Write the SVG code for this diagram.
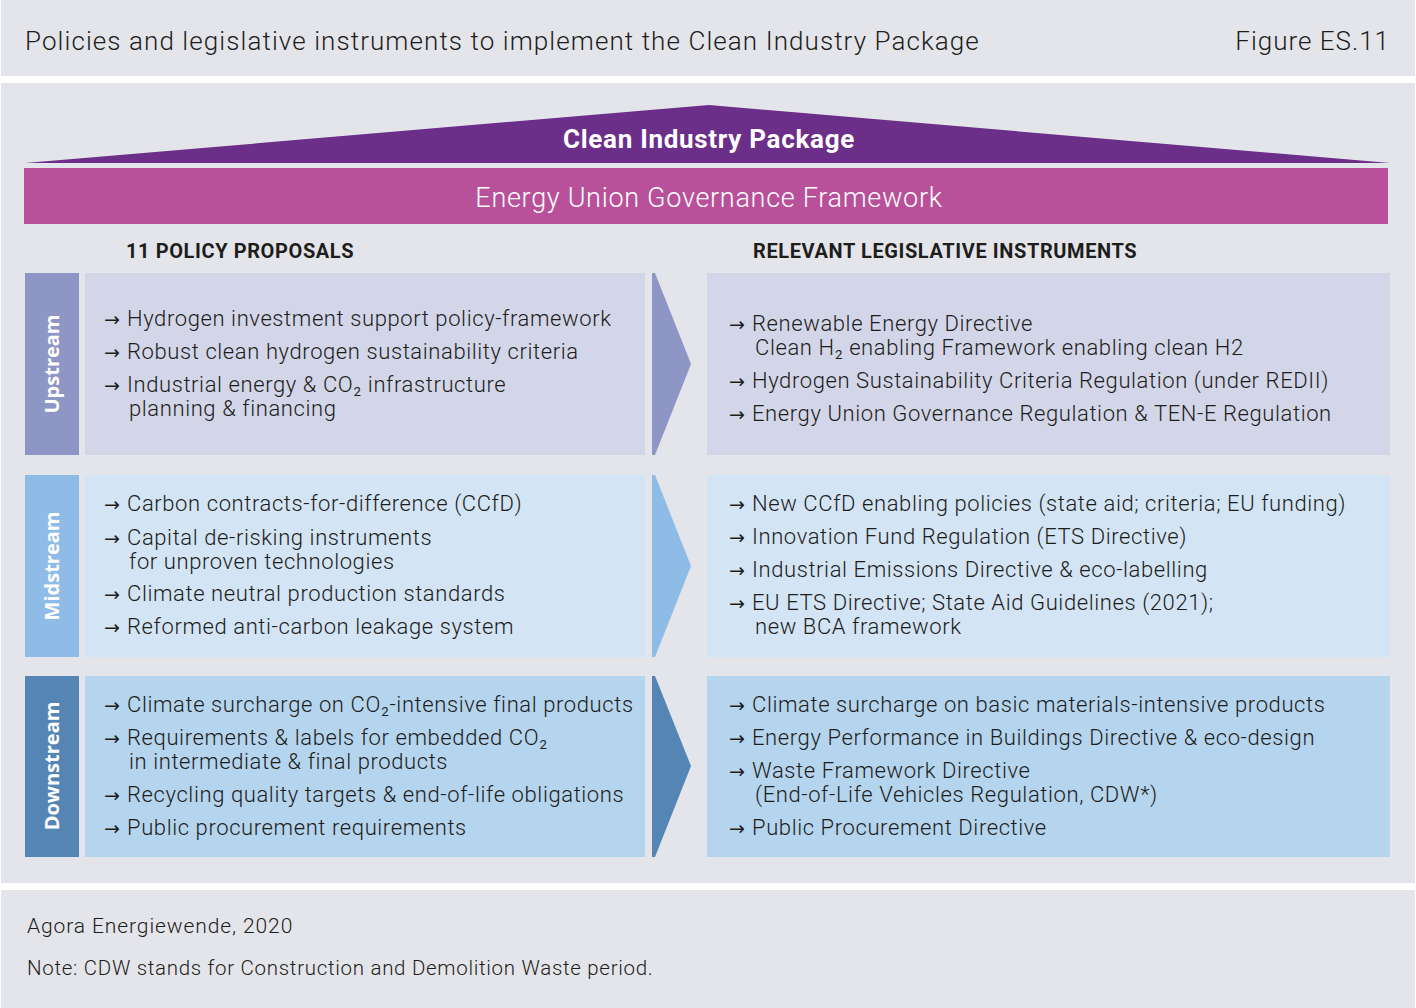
<svg xmlns="http://www.w3.org/2000/svg" width="1416" height="1008" viewBox="0 0 1416 1008">
<style>
.t{font-family:Roboto,"Liberation Sans",sans-serif;fill:#1d1d1b}
.b{font-size:22px;font-weight:300;letter-spacing:0.6px}
.a{font-family:"DejaVu Sans",sans-serif;font-size:19px;fill:#1d1d1b}
.h{font-size:20px;font-weight:700;letter-spacing:0.6px}
.v{font-family:"Open Sans","Liberation Sans",sans-serif;font-size:20px;font-weight:700;fill:#fff}
.w{font-family:Roboto,"Liberation Sans",sans-serif;fill:#fff}
</style>
<rect width="1416" height="1008" fill="#fff"/>
<rect x="1" y="0" width="1414" height="76" fill="#e4e5ea"/>
<rect x="1" y="83" width="1414" height="800" fill="#e4e5ea"/>
<rect x="1" y="890" width="1414" height="118" fill="#e4e5ea"/>
<text class="t" x="25" y="50" font-size="26" font-weight="300" letter-spacing="1.08">Policies and legislative instruments to implement the Clean Industry Package</text>
<text class="t" x="1390" y="50" font-size="26" font-weight="300" letter-spacing="1" text-anchor="end">Figure ES.11</text>

<g id="roof">
<polygon points="709,105 1390,163 25,163" fill="#6b2f8a"/>
<text class="w" x="709" y="148" font-size="26" font-weight="700" letter-spacing="0.7" text-anchor="middle">Clean Industry Package</text>
</g>
<g id="bar">
<rect x="24" y="168" width="1364" height="56" fill="#b9519a"/>
<text class="w" x="709" y="207" font-size="27" font-weight="300" letter-spacing="0.7" text-anchor="middle">Energy Union Governance Framework</text>
</g>
<text class="t h" x="126" y="258">11 POLICY PROPOSALS</text>
<text class="t h" x="753" y="258" letter-spacing="0.8">RELEVANT LEGISLATIVE INSTRUMENTS</text>

<g id="upstream">
<rect x="25" y="273" width="54" height="182" fill="#8d96c4"/>
<text class="v" transform="translate(59,364) rotate(-90)" text-anchor="middle">Upstream</text>
<rect x="85" y="273" width="560" height="182" fill="#d2d6e8"/>
<text class="a"><tspan x="104" y="326">→</tspan><tspan x="104" y="359">→</tspan><tspan x="104" y="392">→</tspan></text>
<text class="t b"><tspan x="127" y="326">Hydrogen investment support policy-framework</tspan><tspan x="127" y="359">Robust clean hydrogen sustainability criteria</tspan><tspan x="127" y="392">Industrial energy &amp; CO₂ infrastructure</tspan><tspan x="129" y="416">planning &amp; financing</tspan></text>
</g>
<g id="upstream-legal">
<rect x="707" y="273" width="683" height="182" fill="#d2d6e8"/>
<text class="a"><tspan x="729" y="331">→</tspan><tspan x="729" y="388">→</tspan><tspan x="729" y="421">→</tspan></text>
<text class="t b"><tspan x="752" y="331">Renewable Energy Directive</tspan><tspan x="755" y="355">Clean H₂ enabling Framework enabling clean H2</tspan><tspan x="752" y="388">Hydrogen Sustainability Criteria Regulation (under REDII)</tspan><tspan x="752" y="421">Energy Union Governance Regulation &amp; TEN-E Regulation</tspan></text>
</g>

<g id="midstream">
<rect x="25" y="475" width="54" height="182" fill="#8fbce6"/>
<text class="v" transform="translate(59,566) rotate(-90)" text-anchor="middle">Midstream</text>
<rect x="85" y="475" width="560" height="182" fill="#d3e4f4"/>
<text class="a"><tspan x="104" y="511">→</tspan><tspan x="104" y="545">→</tspan><tspan x="104" y="601">→</tspan><tspan x="104" y="634">→</tspan></text>
<text class="t b"><tspan x="127" y="511">Carbon contracts-for-difference (CCfD)</tspan><tspan x="127" y="545">Capital de-risking instruments</tspan><tspan x="129" y="569">for unproven technologies</tspan><tspan x="127" y="601">Climate neutral production standards</tspan><tspan x="127" y="634">Reformed anti-carbon leakage system</tspan></text>
</g>
<g id="midstream-legal">
<rect x="707" y="475" width="683" height="182" fill="#d3e4f4"/>
<text class="a"><tspan x="729" y="511">→</tspan><tspan x="729" y="544">→</tspan><tspan x="729" y="577">→</tspan><tspan x="729" y="610">→</tspan></text>
<text class="t b"><tspan x="752" y="511">New CCfD enabling policies (state aid; criteria; EU funding)</tspan><tspan x="752" y="544">Innovation Fund Regulation (ETS Directive)</tspan><tspan x="752" y="577">Industrial Emissions Directive &amp; eco-labelling</tspan><tspan x="752" y="610">EU ETS Directive; State Aid Guidelines (2021);</tspan><tspan x="755" y="634">new BCA framework</tspan></text>
</g>

<g id="downstream">
<rect x="25" y="676" width="54" height="181" fill="#5585b5"/>
<text class="v" transform="translate(59,766) rotate(-90)" text-anchor="middle">Downstream</text>
<rect x="85" y="676" width="560" height="181" fill="#b5d4ee"/>
<text class="a"><tspan x="104" y="712">→</tspan><tspan x="104" y="745">→</tspan><tspan x="104" y="802">→</tspan><tspan x="104" y="835">→</tspan></text>
<text class="t b"><tspan x="127" y="712">Climate surcharge on CO₂-intensive final products</tspan><tspan x="127" y="745">Requirements &amp; labels for embedded CO₂</tspan><tspan x="129" y="769">in intermediate &amp; final products</tspan><tspan x="127" y="802">Recycling quality targets &amp; end-of-life obligations</tspan><tspan x="127" y="835">Public procurement requirements</tspan></text>
</g>
<g id="downstream-legal">
<rect x="707" y="676" width="683" height="181" fill="#b5d4ee"/>
<text class="a"><tspan x="729" y="712">→</tspan><tspan x="729" y="745">→</tspan><tspan x="729" y="778">→</tspan><tspan x="729" y="835">→</tspan></text>
<text class="t b"><tspan x="752" y="712">Climate surcharge on basic materials-intensive products</tspan><tspan x="752" y="745">Energy Performance in Buildings Directive &amp; eco-design</tspan><tspan x="752" y="778">Waste Framework Directive</tspan><tspan x="755" y="802">(End-of-Life Vehicles Regulation, CDW*)</tspan><tspan x="752" y="835">Public Procurement Directive</tspan></text>
</g>

<g id="connectors">
<polygon points="652,273 655,273 691,364 655,455 652,455" fill="#8d96c4"/>
<polygon points="652,475 655,475 691,566 655,657 652,657" fill="#8fbce6"/>
<polygon points="652,676 655,676 691,766 655,857 652,857" fill="#5585b5"/>
</g>

<text class="t" x="27" y="933" font-size="21" font-weight="300" letter-spacing="0.9">Agora Energiewende, 2020</text>
<text class="t" x="27" y="975" font-size="20.5" font-weight="300" letter-spacing="0.7">Note: CDW stands for Construction and Demolition Waste period.</text>
</svg>
